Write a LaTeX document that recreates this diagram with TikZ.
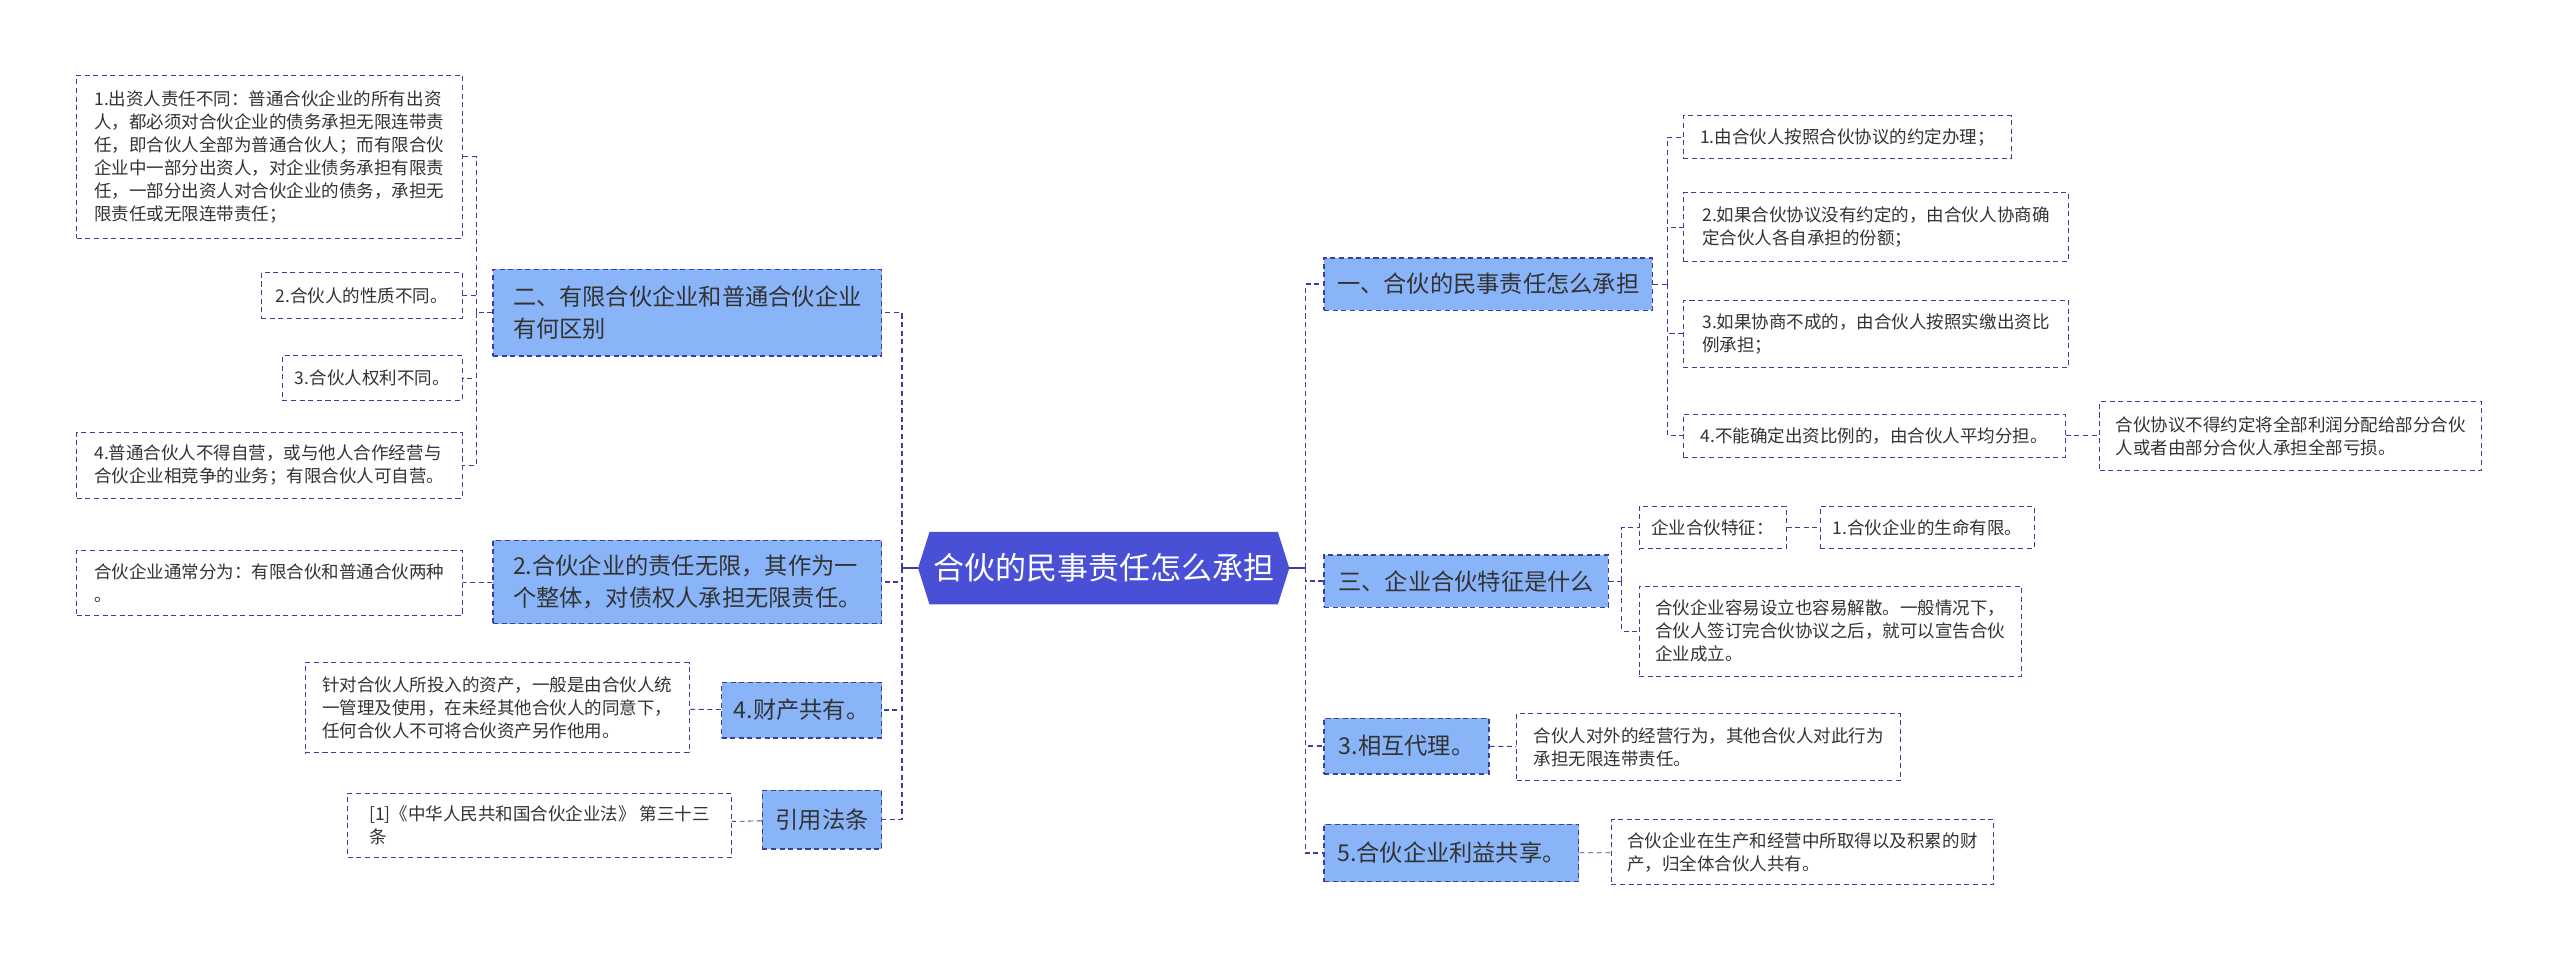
\documentclass[tikz,border=0pt]{standalone}
\usepackage{fontspec}
\setmainfont{Noto Sans CJK SC}
\usetikzlibrary{backgrounds}
\definecolor{linkblue}{RGB}{62,62,158}
\definecolor{rootblue}{RGB}{74,80,214}
\definecolor{topicblue}{RGB}{137,180,248}
\definecolor{textgray}{RGB}{51,51,51}
\tikzset{
  leafbox/.style={draw=linkblue,line width=0.6pt,dash pattern=on 3.5pt off 2.5pt,fill=white,text=textgray,align=left,inner sep=3pt,font=\fontsize{12.2pt}{16pt}\selectfont},
  topicbox/.style={draw=linkblue,line width=0.9pt,dash pattern=on 3.5pt off 2.5pt,fill=topicblue,text=textgray,align=left,inner sep=3pt,font=\fontsize{16.2pt}{22pt}\selectfont},
  rootbox/.style={text=white,minimum width=9.08cm,minimum height=1.76cm,font=\fontsize{21.6pt}{26pt}\selectfont},
  link/.style={draw=linkblue,line width=0.6pt,dash pattern=on 3.5pt off 2.5pt},
  buslink/.style={draw=linkblue,line width=1.1pt,dash pattern=on 3.5pt off 2.5pt},
  rootlink/.style={draw=linkblue,line width=1.1pt}
}
\begin{document}
\begin{tikzpicture}[x=0.04cm,y=-0.04cm]
  \useasboundingbox (0,0) rectangle (1568,590);
  % centre
  \node[rootbox] (root) at (676,348) {合伙的民事责任怎么承担};
  \begin{pgfonlayer}{background}
    \fill[rootblue] (root.west) -- ([xshift=0.28cm]root.north west) -- ([xshift=-0.28cm]root.north east) -- (root.east) -- ([xshift=-0.28cm]root.south east) -- ([xshift=0.28cm]root.south west) -- cycle;
  \end{pgfonlayer}
  % right topics
  \node[topicbox,minimum width=8.04cm,minimum height=1.28cm] (r1) at (911.5,174) {一、合伙的民事责任怎么承担};
  \node[topicbox,minimum width=6.96cm,minimum height=1.28cm] (r2) at (898,356) {三、企业合伙特征是什么};
  \node[topicbox,minimum width=4.04cm,minimum height=1.36cm] (r3) at (861.5,457) {3.相互代理。};
  \node[topicbox,minimum width=6.24cm,minimum height=1.4cm] (r4) at (889,522.5) {5.合伙企业利益共享。};
  % left topics
  \node[topicbox,minimum width=9.52cm,minimum height=2.12cm] (l1) at (421,191.5) {二、有限合伙企业和普通合伙企业\\有何区别};
  \node[topicbox,minimum width=9.52cm,minimum height=2.04cm] (l2) at (421,356.5) {2.合伙企业的责任无限，其作为一\\个整体，对债权人承担无限责任。};
  \node[topicbox,minimum width=3.92cm,minimum height=1.36cm] (l3) at (491,435) {4.财产共有。};
  \node[topicbox,minimum width=2.92cm,minimum height=1.44cm] (l4) at (503.5,502) {引用法条};
  % left leaves
  \node[leafbox,minimum width=9.44cm,minimum height=4cm] (a1) at (165,96) {1.出资人责任不同：普通合伙企业的所有出资\\人，都必须对合伙企业的债务承担无限连带责\\任，即合伙人全部为普通合伙人；而有限合伙\\企业中一部分出资人，对企业债务承担有限责\\任，一部分出资人对合伙企业的债务，承担无\\限责任或无限连带责任；};
  \node[leafbox,minimum width=4.92cm,minimum height=1.12cm] (a2) at (221.5,181) {2.合伙人的性质不同。};
  \node[leafbox,minimum width=4.4cm,minimum height=1.08cm] (a3) at (228,231.5) {3.合伙人权利不同。};
  \node[leafbox,minimum width=9.44cm,minimum height=1.6cm] (a4) at (165,285) {4.普通合伙人不得自营，或与他人合作经营与\\合伙企业相竞争的业务；有限合伙人可自营。};
  \node[leafbox,minimum width=9.44cm,minimum height=1.6cm] (b1) at (165,357) {合伙企业通常分为：有限合伙和普通合伙两种\\。};
  \node[leafbox,minimum width=9.4cm,minimum height=2.2cm] (c1) at (304.5,433.5) {针对合伙人所投入的资产，一般是由合伙人统\\一管理及使用，在未经其他合伙人的同意下，\\任何合伙人不可将合伙资产另作他用。};
  \node[leafbox,minimum width=9.4cm,minimum height=1.56cm] (d1) at (330.5,505.5) {[1]《中华人民共和国合伙企业法》 第三十三\\条};
  % right leaves
  \node[leafbox,minimum width=8.04cm,minimum height=1.04cm] (e1) at (1131.5,84) {1.由合伙人按照合伙协议的约定办理；};
  \node[leafbox,minimum width=9.44cm,minimum height=1.68cm] (e2) at (1149,139) {2.如果合伙协议没有约定的，由合伙人协商确\\定合伙人各自承担的份额；};
  \node[leafbox,minimum width=9.44cm,minimum height=1.64cm] (e3) at (1149,204.5) {3.如果协商不成的，由合伙人按照实缴出资比\\例承担；};
  \node[leafbox,minimum width=9.36cm,minimum height=1.04cm] (e4) at (1148,267) {4.不能确定出资比例的，由合伙人平均分担。};
  \node[leafbox,minimum width=9.36cm,minimum height=1.68cm] (e5) at (1403,267) {合伙协议不得约定将全部利润分配给部分合伙\\人或者由部分合伙人承担全部亏损。};
  \node[leafbox,minimum width=3.6cm,minimum height=1.04cm] (f1) at (1049,323) {企业合伙特征：};
  \node[leafbox,minimum width=5.24cm,minimum height=1.04cm] (f2) at (1180.5,323) {1.合伙企业的生命有限。};
  \node[leafbox,minimum width=9.36cm,minimum height=2.2cm] (f3) at (1121,386.5) {合伙企业容易设立也容易解散。一般情况下，\\合伙人签订完合伙协议之后，就可以宣告合伙\\企业成立。};
  \node[leafbox,minimum width=9.4cm,minimum height=1.64cm] (g1) at (1046.5,457.5) {合伙人对外的经营行为，其他合伙人对此行为\\承担无限连带责任。};
  \node[leafbox,minimum width=9.36cm,minimum height=1.6cm] (h1) at (1104,522) {合伙企业在生产和经营中所取得以及积累的财\\产，归全体合伙人共有。};
  % centre to topics
  \draw[rootlink] (root.east) -- ++(10,0) coordinate (rbus);
  \draw[rootlink] (root.west) -- ++(-10,0) coordinate (lbus);
  \foreach \t in {r1,r2,r3,r4} \draw[buslink] (rbus) |- (\t.west);
  \foreach \t in {l1,l2,l3,l4} \draw[buslink] (lbus) |- (\t.east);
  % topics to leaves
  \draw[link] (r1.east) -- ++(9,0) coordinate (r1bus);
  \foreach \t in {e1,e2,e3,e4} \draw[link] (r1bus) |- (\t.west);
  \draw[link] (r2.east) -- ++(8,0) coordinate (r2bus);
  \foreach \t in {f1,f3} \draw[link] (r2bus) |- (\t.west);
  \draw[link] (l1.west) -- ++(-10,0) coordinate (l1bus);
  \foreach \t in {a1,a2,a3,a4} \draw[link] (l1bus) |- (\t.east);
  \draw[link] (e4) -- (e5);
  \draw[link] (f1) -- (f2);
  \draw[link] (l2) -- (b1);
  \draw[link] (l3) -- (c1);
  \draw[link] (l4) -- (d1);
  \draw[link] (r3) -- (g1);
  \draw[link] (r4) -- (h1);
\end{tikzpicture}
\end{document}
